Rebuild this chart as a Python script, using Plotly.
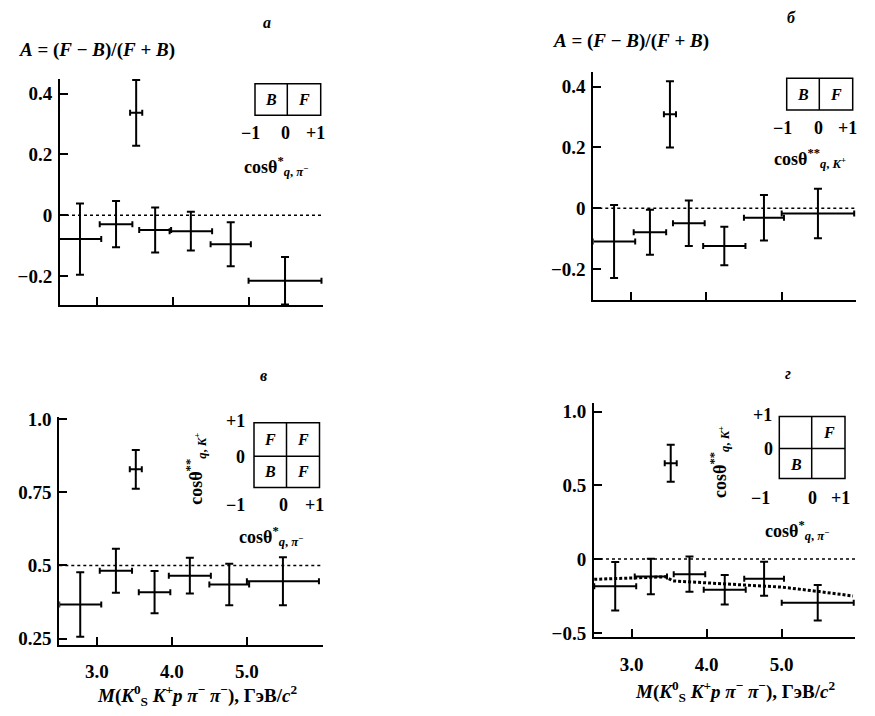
import plotly.graph_objects as go

# ---------------- data ----------------
MASS_CENTER = [2.78, 3.255, 3.77, 4.24, 4.765, 5.48]
MASS_HALF = [0.28, 0.215, 0.21, 0.28, 0.265, 0.48]
PEAK_MASS = [3.52]
PEAK_HALF = [0.08]

A_VAL = [-0.078, -0.029, -0.048, -0.052, -0.095, -0.215]
A_ERR = [0.117, 0.076, 0.074, 0.064, 0.072, 0.078]
A_PEAK = [0.337]
A_PEAK_ERR = [0.108]

B_VAL = [-0.109, -0.079, -0.049, -0.124, -0.031, -0.017]
B_ERR = [0.120, 0.074, 0.075, 0.063, 0.075, 0.081]
B_PEAK = [0.309]
B_PEAK_ERR = [0.109]

V_VAL = [0.367, 0.482, 0.409, 0.465, 0.435, 0.446]
V_ERR = [0.110, 0.075, 0.072, 0.061, 0.071, 0.082]
V_PEAK = [0.828]
V_PEAK_ERR = [0.066]

G_VAL = [-0.184, -0.118, -0.102, -0.207, -0.133, -0.296]
G_ERR = [0.165, 0.120, 0.120, 0.100, 0.115, 0.120]
G_PEAK = [0.649]
G_PEAK_ERR = [0.125]

CURVE_MASS = [2.5, 3.0, 3.45, 3.55, 4.0, 4.5, 5.0, 5.5, 5.95]
CURVE_VAL = [-0.137, -0.128, -0.12, -0.148, -0.16, -0.172, -0.19, -0.22, -0.25]

REF_LEVEL = {"a": 0.0, "b": 0.0, "v": 0.5, "g": 0.0}

X_TICKS = [3.0, 4.0, 5.0]
X_TICKTEXT = ["3.0", "4.0", "5.0"]
A_TICKS = [-0.2, 0.0, 0.2, 0.4]
A_TICKTEXT = ["\u22120.2", "0", "0.2", "0.4"]
V_TICKS = [0.25, 0.5, 0.75, 1.0]
V_TICKTEXT = ["0.25", "0.5", "0.75", "1.0"]
G_TICKS = [-0.5, 0.0, 0.5, 1.0]
G_TICKTEXT = ["\u22120.5", "0", "0.5", "1.0"]

# ---------------- layout helpers ----------------
W, H = 875, 716
FONT = "Liberation Serif"


def px(x):
    return x / W


def py(y):
    return 1 - y / H


fig = go.Figure()

panels = [
    ("a", "", A_VAL, A_ERR, A_PEAK, A_PEAK_ERR, (60, 323), (72, 303), (2.517, 5.98), (-0.295, 0.4495), A_TICKS, A_TICKTEXT, False),
    ("b", "2", B_VAL, B_ERR, B_PEAK, B_PEAK_ERR, (593.3, 856), (65, 297.7), (2.505, 5.984), (-0.301, 0.449), A_TICKS, A_TICKTEXT, False),
    ("v", "3", V_VAL, V_ERR, V_PEAK, V_PEAK_ERR, (59.3, 322.7), (416.7, 649.3), (2.501, 6.01), (0.230, 1.008), V_TICKS, V_TICKTEXT, True),
    ("g", "4", G_VAL, G_ERR, G_PEAK, G_PEAK_ERR, (594, 855), (403.3, 641.7), (2.497, 5.977), (-0.529, 1.055), G_TICKS, G_TICKTEXT, True),
]

axis_style = dict(
    showline=True, linecolor="black", linewidth=2,
    ticks="inside", ticklen=8, tickwidth=2, tickcolor="black",
    showgrid=False, zeroline=False, mirror=False,
    tickfont=dict(family=FONT, size=19, color="black", weight="bold"),
)

for key, sfx, vals, errs, peak, peak_err, xd, yd, xr, yr, yt, ytt, showx in panels:
    xa = "x" + sfx
    ya = "y" + sfx
    fig.add_trace(go.Scatter(
        x=MASS_CENTER, y=vals, mode="markers", xaxis=xa, yaxis=ya,
        marker=dict(size=2, color="black"),
        error_x=dict(type="data", array=MASS_HALF, color="black", thickness=2, width=3),
        error_y=dict(type="data", array=errs, color="black", thickness=2, width=4),
        showlegend=False, hoverinfo="skip",
    ))
    fig.add_trace(go.Scatter(
        x=PEAK_MASS, y=peak, mode="markers", xaxis=xa, yaxis=ya,
        marker=dict(size=2, color="black"),
        error_x=dict(type="data", array=PEAK_HALF, color="black", thickness=2, width=3),
        error_y=dict(type="data", array=peak_err, color="black", thickness=2, width=4),
        showlegend=False, hoverinfo="skip",
    ))
    fig.add_shape(type="line", xref=xa + " domain", yref=ya, x0=0, x1=1,
                  y0=REF_LEVEL[key], y1=REF_LEVEL[key],
                  line=dict(color="black", width=1.5, dash="dot"))
    xname = "xaxis" + sfx
    yname = "yaxis" + sfx
    fig.update_layout(**{
        xname: dict(domain=[px(xd[0]), px(xd[1])], range=list(xr), anchor=ya,
                    tickvals=X_TICKS, ticktext=X_TICKTEXT, showticklabels=showx,
                    ticklabelstandoff=9, **axis_style),
        yname: dict(domain=[py(yd[1]), py(yd[0])], range=list(yr), anchor=xa,
                    tickvals=yt, ticktext=ytt, ticklabelstandoff=2, **axis_style),
    })

fig.add_trace(go.Scatter(
    x=CURVE_MASS, y=CURVE_VAL, mode="lines", xaxis="x4", yaxis="y4",
    line=dict(color="black", width=3, dash="3px,2px"),
    showlegend=False, hoverinfo="skip",
))

# ---------------- text ----------------
ann = []


def text(x, y, s, size=18, xanchor="center", angle=0, weight="bold"):
    ann.append(dict(x=px(x), y=py(y), xref="paper", yref="paper", text=s,
                    showarrow=False, xanchor=xanchor, yanchor="middle",
                    textangle=angle,
                    font=dict(family=FONT, size=size, color="black", weight=weight)))


# panel letters
text(266.7, 15, "<i>a</i>", 16)
text(791.7, 10, "<i>б</i>", 16)
text(263.3, 375, "<i>в</i>", 16)
text(788.3, 372.7, "<i>г</i>", 16)

asym = "<i>A</i> = (<i>F</i> \u2212 <i>B</i>)/(<i>F</i> + <i>B</i>)"
text(17, 43.3, asym, 19, xanchor="left")
text(550.5, 33.3, asym, 19, xanchor="left")

xtitle = ("<i>M</i>(<i>K</i><sup>0</sup><sub>S</sub> <i>K</i><sup>+</sup><i>p</i> "
          "<i>\u03c0</i><sup>\u2212</sup> <i>\u03c0</i><sup>\u2212</sup>), \u0413\u044d\u0412/<i>c</i><sup>2</sup>")
text(197, 701, xtitle, 19)
text(735, 697, xtitle, 19)

cos_pi = "cos\u03b8<sup>*</sup><sub><i>q</i>, <i>\u03c0</i><sup>\u2212</sup></sub>"
cos_k = "cos\u03b8<sup>**</sup><sub><i>q</i>, <i>K</i><sup>+</sup></sub>"

shapes_extra = []


def box(x0, y0, x1, y1):
    shapes_extra.append(dict(type="rect", xref="paper", yref="paper",
                             x0=px(x0), x1=px(x1), y0=py(y1), y1=py(y0),
                             line=dict(color="black", width=1.5)))


def seg(x0, y0, x1, y1):
    shapes_extra.append(dict(type="line", xref="paper", yref="paper",
                             x0=px(x0), x1=px(x1), y0=py(y0), y1=py(y1),
                             line=dict(color="black", width=1.5)))


# inset a
box(255, 77.3, 320.7, 109.3)
seg(287.3, 77.3, 287.3, 109.3)
text(271, 93, "<i>B</i>", 16)
text(304, 93, "<i>F</i>", 16)
text(250, 128, "\u22121", 18)
text(285, 128, "0", 18)
text(315, 128, "+1", 18)
text(276, 162, cos_pi, 18)

# inset б
box(786.7, 71.7, 852.7, 104)
seg(819.3, 71.7, 819.3, 104)
text(803, 88, "<i>B</i>", 16)
text(836, 88, "<i>F</i>", 16)
text(782.7, 122.7, "\u22121", 18)
text(818.3, 122.7, "0", 18)
text(847.3, 122.7, "+1", 18)
text(810, 153, cos_k, 18)

# inset в
box(254, 423, 319.5, 489)
seg(286.5, 423, 286.5, 489)
seg(254, 457.2, 319.5, 457.2)
text(270, 440, "<i>F</i>", 16)
text(303, 440, "<i>F</i>", 16)
text(270, 473, "<i>B</i>", 16)
text(303, 473, "<i>F</i>", 16)
text(235, 421, "+1", 18)
text(241, 458, "0", 18)
text(235, 506.7, "\u22121", 18)
text(283, 506.7, "0", 18)
text(314, 506.7, "+1", 18)
text(196, 470, cos_k, 18, angle=-90)
text(271, 539, cos_pi, 18)

# inset г
box(779.3, 416.7, 845, 480)
seg(811.7, 416.7, 811.7, 480)
seg(779.3, 449.3, 845, 449.3)
text(829, 433, "<i>F</i>", 16)
text(796, 466, "<i>B</i>", 16)
text(762.7, 415, "+1", 18)
text(768.3, 450, "0", 18)
text(760.7, 500, "\u22121", 18)
text(812.3, 500, "0", 18)
text(840, 500, "+1", 18)
text(720, 463, cos_k, 18, angle=-90)
text(797, 533, cos_pi, 18)

fig.update_layout(
    width=W, height=H, autosize=False,
    margin=dict(l=0, r=0, t=0, b=0),
    paper_bgcolor="white", plot_bgcolor="white",
    annotations=ann,
    shapes=list(fig.layout.shapes) + shapes_extra,
    font=dict(family=FONT, color="black"),
)

fig.write_html("out.html", config={"displayModeBar": False},
               post_script="document.body.style.margin='0';")
